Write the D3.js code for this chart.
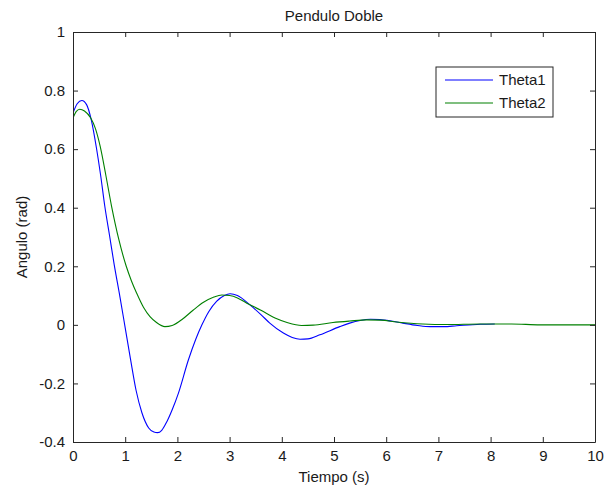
<!DOCTYPE html>
<html>
<head>
<meta charset="utf-8">
<script src="https://cdn.jsdelivr.net/npm/d3@7"></script>
<style>
  body { margin: 0; background: #fff; }
  svg { display: block; font-family: "Liberation Sans", Arial, sans-serif; }
</style>
</head>
<body>
<div id="chart"></div>
<script>
// Theta1 (blue), values
const t1Time = [0, 0.08, 0.17, 0.26, 0.35, 0.45, 0.53, 0.61, 0.7, 0.79, 0.9, 1.0, 1.1, 1.21, 1.32, 1.45, 1.55, 1.62, 1.7, 1.8, 1.9, 2.02, 2.21, 2.35, 2.47, 2.6, 2.75, 2.9, 3.01, 3.15, 3.39, 3.6, 3.77, 4.03, 4.2, 4.35, 4.5, 4.73, 5.11, 5.3, 5.5, 5.7, 5.88, 6.1, 6.32, 6.6, 6.84, 7.1, 7.35, 7.8, 8.08];
const t1Vals = [0.723, 0.755, 0.766, 0.752, 0.7, 0.603, 0.51, 0.404, 0.305, 0.205, 0.095, -0.01, -0.115, -0.225, -0.3, -0.352, -0.366, -0.368, -0.36, -0.33, -0.29, -0.233, -0.12, -0.05, 0.0, 0.045, 0.08, 0.1, 0.106, 0.1, 0.068, 0.035, 0.006, -0.028, -0.043, -0.049, -0.048, -0.034, -0.006, 0.006, 0.015, 0.019, 0.018, 0.013, 0.006, -0.002, -0.006, -0.006, -0.003, 0.002, 0.003];

// Theta2 (green)
const t2Time = [0, 0.06, 0.13, 0.22, 0.34, 0.43, 0.52, 0.63, 0.74, 0.88, 1.02, 1.12, 1.22, 1.35, 1.475, 1.6, 1.76, 1.9, 2.1, 2.3, 2.5, 2.7, 2.85, 3.0, 3.15, 3.33, 3.6, 3.87, 4.1, 4.38, 4.6, 4.98, 5.3, 5.63, 5.9, 6.2, 6.7, 7.16, 7.8, 8.4, 8.95, 10];
const t2Vals = [0.706, 0.728, 0.736, 0.73, 0.706, 0.67, 0.61, 0.51, 0.404, 0.29, 0.2, 0.15, 0.108, 0.06, 0.028, 0.008, -0.006, -0.002, 0.02, 0.05, 0.077, 0.095, 0.102, 0.1, 0.092, 0.074, 0.05, 0.023, 0.008, -0.002, -0.001, 0.008, 0.013, 0.017, 0.016, 0.01, 0.003, 0.001, 0.003, 0.003, 0.0, 0.0];

const xTicks = [0, 1, 2, 3, 4, 5, 6, 7, 8, 9, 10];
const yTicks = [-0.4, -0.2, 0, 0.2, 0.4, 0.6, 0.8, 1];
const seriesNames = ["Theta1", "Theta2"];
const seriesColors = ["#0000ff", "#008000"];

const W = 613, H = 488;
const margin = { top: 32, right: 18, bottom: 46, left: 73 };
const width = W - margin.left - margin.right;
const height = H - margin.top - margin.bottom;
const fs = 15;

const svg = d3.select("#chart").append("svg")
  .attr("width", W)
  .attr("height", H);

const g = svg.append("g")
  .attr("transform", `translate(${margin.left},${margin.top})`);

const x = d3.scaleLinear().domain([0, 10]).range([0, width]);
const y = d3.scaleLinear().domain([-0.4, 1]).range([height, 0]);

// clip for curves
svg.append("defs").append("clipPath").attr("id", "clip")
  .append("rect").attr("width", width).attr("height", height);

const line = d3.line()
  .x(d => x(d[0]))
  .y(d => y(d[1]))
  .curve(d3.curveMonotoneX);

const series = [
  d3.zip(t1Time, t1Vals),
  d3.zip(t2Time, t2Vals)
];

series.forEach((s, i) => {
  g.append("path")
    .datum(s)
    .attr("clip-path", "url(#clip)")
    .attr("fill", "none")
    .attr("stroke", seriesColors[i])
    .attr("stroke-width", 1.1)
    .attr("d", line);
});

// axes (inward ticks, box) - plain hyphen for negatives like matlab
const tickFmt = d => String(+d.toFixed(1));
const axBottom = g.append("g")
  .attr("transform", `translate(0,${height})`)
  .call(d3.axisBottom(x).tickValues(xTicks).tickSizeInner(-5).tickSizeOuter(0).tickPadding(8).tickFormat(tickFmt));
const axTop = g.append("g")
  .call(d3.axisTop(x).tickValues(xTicks).tickSizeInner(-5).tickSizeOuter(0).tickFormat(""));
const axLeft = g.append("g")
  .call(d3.axisLeft(y).tickValues(yTicks).tickSizeInner(-5).tickSizeOuter(0).tickPadding(8).tickFormat(tickFmt));
const axRight = g.append("g")
  .attr("transform", `translate(${width},0)`)
  .call(d3.axisRight(y).tickValues(yTicks).tickSizeInner(-5).tickSizeOuter(0).tickFormat(""));

[axBottom, axTop, axLeft, axRight].forEach(a => {
  a.select(".domain").attr("stroke", "#262626");
  a.selectAll(".tick line").attr("stroke", "#262626");
  a.selectAll("text").attr("font-size", fs).attr("fill", "#1a1a1a")
    .attr("font-family", "'Liberation Sans', Arial, sans-serif");
});

// titles
svg.append("text")
  .attr("x", margin.left + width / 2)
  .attr("y", 21)
  .attr("text-anchor", "middle")
  .attr("font-size", fs)
  .attr("fill", "#1a1a1a")
  .text("Pendulo Doble");

svg.append("text")
  .attr("x", margin.left + width / 2)
  .attr("y", 482)
  .attr("text-anchor", "middle")
  .attr("font-size", fs)
  .attr("fill", "#1a1a1a")
  .text("Tiempo (s)");

svg.append("text")
  .attr("transform", `translate(27,${margin.top + height / 2}) rotate(-90)`)
  .attr("text-anchor", "middle")
  .attr("font-size", fs)
  .attr("fill", "#1a1a1a")
  .text("Angulo (rad)");

// legend
const lg = svg.append("g").attr("transform", "translate(436,67)");
lg.append("rect")
  .attr("width", 117).attr("height", 50)
  .attr("fill", "#fff").attr("stroke", "#262626");
seriesNames.forEach((name, i) => {
  const yy = 13 + i * 23;
  lg.append("line")
    .attr("x1", 9).attr("x2", 57)
    .attr("y1", yy).attr("y2", yy)
    .attr("stroke", seriesColors[i]).attr("stroke-width", 1.1);
  lg.append("text")
    .attr("x", 63).attr("y", yy + 5)
    .attr("font-size", fs).attr("fill", "#1a1a1a")
    .text(name);
});
</script>
</body>
</html>
